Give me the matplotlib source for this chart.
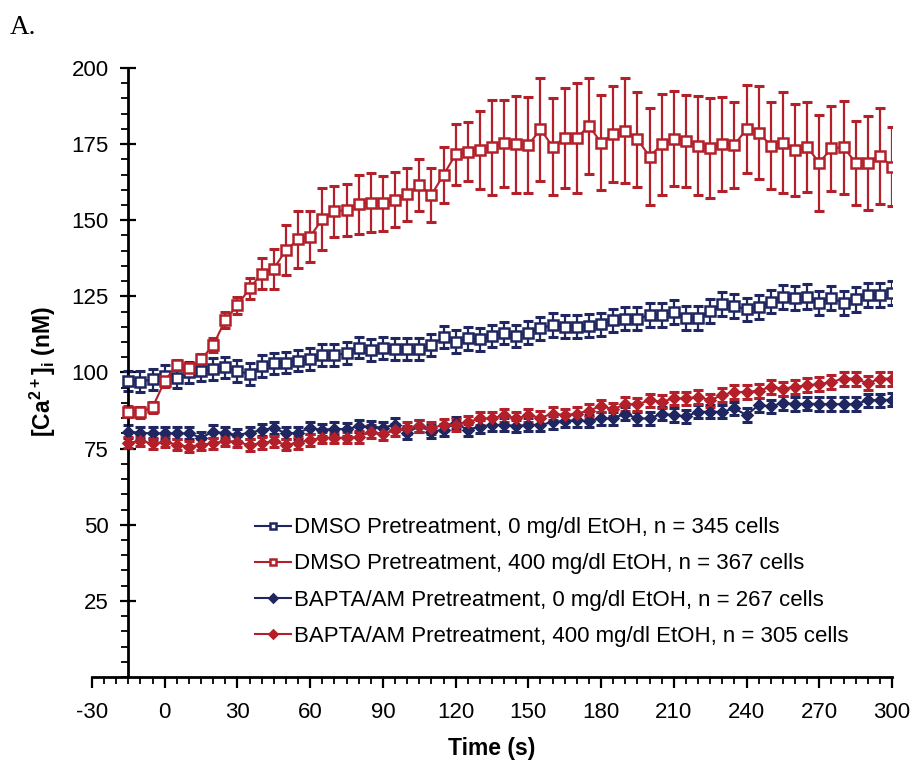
import matplotlib
matplotlib.use('Agg')
import matplotlib.pyplot as plt
import numpy as np

plt.rcParams['font.family'] = ['Liberation Sans', 'DejaVu Sans']
plt.rcParams['axes.unicode_minus'] = False
plt.rcParams['mathtext.fontset'] = 'custom'
plt.rcParams['mathtext.bf'] = 'Liberation Sans:bold'
plt.rcParams['mathtext.rm'] = 'Liberation Sans:bold'

time_s = list(range(-15, 301, 5))

dmso_0 = [97.2, 97.0, 97.8, 98.9, 98.3, 100.1, 100.6, 101.1, 101.7, 100.5,
          99.5, 102.1, 103.0, 103.2, 103.9, 104.3, 105.7, 105.7, 106.3, 108.2,
          107.4, 108.1, 107.6, 107.6, 107.6, 109.0, 111.6, 110.1, 111.2, 110.9,
          112.0, 112.9, 112.0, 113.1, 114.5, 115.6, 115.0, 115.0, 115.3, 115.9,
          117.2, 117.6, 117.6, 118.9, 118.9, 119.9, 117.8, 117.8, 120.3, 122.5,
          121.8, 120.7, 121.6, 123.3, 124.7, 124.4, 124.9, 122.9, 124.4, 122.9,
          124.0, 125.4, 125.4, 126.2]
dmso_0_err = [3.4, 3.4, 3.4, 3.4, 3.4, 3.4, 3.4, 3.5, 3.5, 3.5,
              3.5, 3.5, 3.5, 3.5, 3.5, 3.6, 3.6, 3.6, 3.6, 3.6,
              3.6, 3.6, 3.6, 3.6, 3.6, 3.7, 3.7, 3.7, 3.7, 3.7,
              3.7, 3.7, 3.7, 3.8, 3.8, 3.8, 3.8, 3.8, 3.8, 3.8,
              3.8, 3.8, 3.8, 3.8, 3.9, 3.9, 3.9, 3.9, 3.9, 3.9,
              3.9, 3.9, 3.9, 3.9, 4.0, 4.0, 4.0, 4.0, 4.0, 4.0,
              4.0, 4.0, 4.0, 4.0]

dmso_400 = [87.1, 86.9, 88.6, 97.2, 102.5, 101.4, 104.3, 109.0, 117.2, 122.1,
            127.6, 132.5, 134.1, 140.2, 143.7, 144.6, 150.4, 152.9, 153.3, 155.3,
            155.8, 155.6, 156.7, 158.5, 161.6, 158.3, 164.9, 171.6, 172.5, 173.1,
            174.0, 175.3, 174.9, 174.7, 179.9, 174.2, 177.1, 177.1, 181.0, 175.5,
            178.3, 179.4, 176.6, 170.9, 174.9, 176.7, 176.0, 174.5, 173.6, 175.0,
            174.7, 180.0, 178.8, 174.5, 175.5, 173.1, 174.0, 168.9, 173.6, 174.0,
            168.9, 168.7, 171.2, 167.6]
dmso_400_err = [1.8, 1.8, 1.8, 2.0, 1.6, 1.8, 1.9, 2.3, 2.7, 2.8,
                3.3, 5.2, 6.6, 8.2, 9.3, 8.3, 10.1, 8.5, 8.5, 9.7,
                9.7, 9.0, 9.0, 8.6, 8.6, 8.9, 9.3, 10.1, 9.7, 12.7,
                15.6, 14.3, 15.9, 15.7, 16.9, 15.9, 16.4, 18.0, 15.7, 15.5,
                15.9, 17.3, 15.6, 15.9, 16.7, 15.6, 15.0, 16.3, 16.4, 15.4,
                14.0, 14.4, 15.4, 14.4, 16.7, 15.1, 14.8, 15.7, 13.9, 15.3,
                13.8, 15.4, 15.8, 12.9]

bapta_0 = [80.6, 80.2, 80.0, 80.0, 80.0, 80.0, 78.6, 80.6, 80.0, 79.5,
           80.2, 81.1, 81.8, 80.0, 80.2, 81.8, 81.1, 81.6, 81.3, 82.4,
           82.2, 81.9, 82.8, 80.2, 82.4, 80.6, 81.1, 83.4, 81.1, 82.2,
           82.8, 82.8, 82.4, 82.8, 82.8, 83.7, 84.1, 84.3, 84.1, 84.9,
           84.9, 86.5, 84.9, 84.9, 86.5, 86.0, 85.6, 87.1, 87.1, 87.1,
           88.2, 86.0, 89.3, 88.9, 90.0, 89.6, 89.8, 89.6, 89.6, 89.6,
           89.6, 90.9, 90.9, 91.1]
bapta_0_err = [2.0, 2.0, 2.0, 2.0, 2.0, 2.0, 2.0, 2.0, 2.0, 2.0,
               2.0, 2.0, 2.0, 2.0, 2.0, 2.0, 2.0, 2.0, 2.0, 2.0,
               2.0, 2.0, 2.1, 2.1, 2.1, 2.1, 2.1, 2.1, 2.1, 2.1,
               2.1, 2.1, 2.1, 2.1, 2.1, 2.1, 2.1, 2.1, 2.1, 2.1,
               2.2, 2.2, 2.2, 2.2, 2.2, 2.2, 2.2, 2.2, 2.2, 2.2,
               2.2, 2.2, 2.2, 2.2, 2.2, 2.2, 2.2, 2.2, 2.2, 2.2,
               2.2, 2.2, 2.2, 2.2]

bapta_400 = [76.9, 77.5, 76.7, 77.2, 76.3, 75.6, 76.3, 76.7, 77.5, 77.2,
             76.1, 76.9, 77.4, 76.3, 76.9, 77.8, 78.6, 78.6, 78.6, 78.8,
             80.6, 79.8, 81.1, 81.7, 82.4, 81.7, 82.8, 82.8, 83.7, 84.9,
             84.9, 86.0, 84.9, 86.0, 85.1, 86.5, 86.0, 86.5, 87.5, 89.0,
             87.9, 89.6, 89.5, 90.9, 90.4, 91.5, 91.5, 92.0, 90.9, 92.6,
             93.6, 93.6, 94.0, 95.3, 94.7, 95.3, 95.8, 96.2, 96.9, 98.0,
             98.0, 96.4, 98.0, 98.0]
bapta_400_err = [1.8, 1.8, 1.8, 1.8, 1.8, 1.8, 1.8, 1.8, 1.8, 1.8,
                 1.9, 1.9, 1.9, 1.9, 1.9, 1.9, 1.9, 1.9, 1.9, 1.9,
                 2.0, 2.0, 2.0, 2.0, 2.0, 2.0, 2.0, 2.0, 2.0, 2.0,
                 2.1, 2.1, 2.1, 2.1, 2.1, 2.1, 2.1, 2.1, 2.1, 2.1,
                 2.2, 2.2, 2.2, 2.2, 2.2, 2.2, 2.2, 2.2, 2.2, 2.2,
                 2.3, 2.3, 2.3, 2.3, 2.3, 2.3, 2.3, 2.3, 2.3, 2.3,
                 2.3, 2.3, 2.3, 2.3]

labels = ['DMSO Pretreatment, 0 mg/dl EtOH, n = 345 cells',
          'DMSO Pretreatment, 400 mg/dl EtOH, n = 367 cells',
          'BAPTA/AM Pretreatment, 0 mg/dl EtOH, n = 267 cells',
          'BAPTA/AM Pretreatment, 400 mg/dl EtOH, n = 305 cells']

navy = '#1f2660'
red = '#b3202a'

fig = plt.figure(figsize=(9.13, 7.67), dpi=100)
ax = fig.add_axes([92 / 913, 1 - 677 / 767, 800 / 913, 609 / 767])

series = [
    (dmso_0, dmso_0_err, navy, 's', 'white'),
    (dmso_400, dmso_400_err, red, 's', 'white'),
    (bapta_0, bapta_0_err, navy, 'D', navy),
    (bapta_400, bapta_400_err, red, 'D', red),
]

handles = []
for (vals, err, col, mk, face), lab in zip(series, labels):
    ax.errorbar(time_s, vals, yerr=err, fmt='none', ecolor=col,
                elinewidth=1.6, capsize=3.6, capthick=2.2, zorder=2)
    ms = 6.8 if mk == 's' else 5.6
    h, = ax.plot(time_s, vals, color=col, lw=1.5, marker=mk, ms=ms,
                 mfc=face, mec=col, mew=1.8, label=lab, zorder=3)
    handles.append(h)

ax.set_xlim(-30, 300)
ax.set_ylim(0, 200)
ax.spines['top'].set_visible(False)
ax.spines['right'].set_visible(False)
ax.spines['left'].set_position(('data', -15))
ax.spines['left'].set_linewidth(2.0)
ax.spines['bottom'].set_linewidth(2.0)

ax.set_xticks(np.arange(-30, 301, 30))
ax.set_xticks(np.arange(-30, 301, 5), minor=True)
ax.set_yticks(np.arange(25, 201, 25))
ax.set_yticks(np.arange(0, 201, 5), minor=True)
ax.tick_params(axis='x', which='major', direction='out', length=8, width=1.6,
               labelsize=16, pad=10)
ax.tick_params(axis='x', which='minor', direction='out', length=5, width=1.3)
ax.tick_params(axis='y', which='major', direction='inout', length=12, width=1.6,
               labelsize=16, pad=8)
ax.tick_params(axis='y', which='minor', direction='out', length=5, width=1.3)

ax.set_xlabel('Time (s)', fontsize=16.5, fontweight='bold', labelpad=10)
fig.text(43 / 913, 1 - 372 / 767, r'$\mathbf{[Ca^{2+}]_{i}}$ (nM)',
         rotation=90, fontsize=16.5, fontweight='bold', ha='center', va='center')

fig.text(10 / 913, 1 - 28 / 767, 'A.', fontsize=19.5, family='Liberation Serif',
         ha='left', va='center')

leg = ax.legend(handles=handles, loc='center left', frameon=False,
                bbox_to_anchor=(255 / 913, 1 - 582 / 767),
                bbox_transform=fig.transFigure, fontsize=16,
                handlelength=1.6, handletextpad=0.15, labelspacing=0.68,
                markerscale=0.65, borderpad=0, borderaxespad=0)

fig.savefig('out.png', dpi=100)
